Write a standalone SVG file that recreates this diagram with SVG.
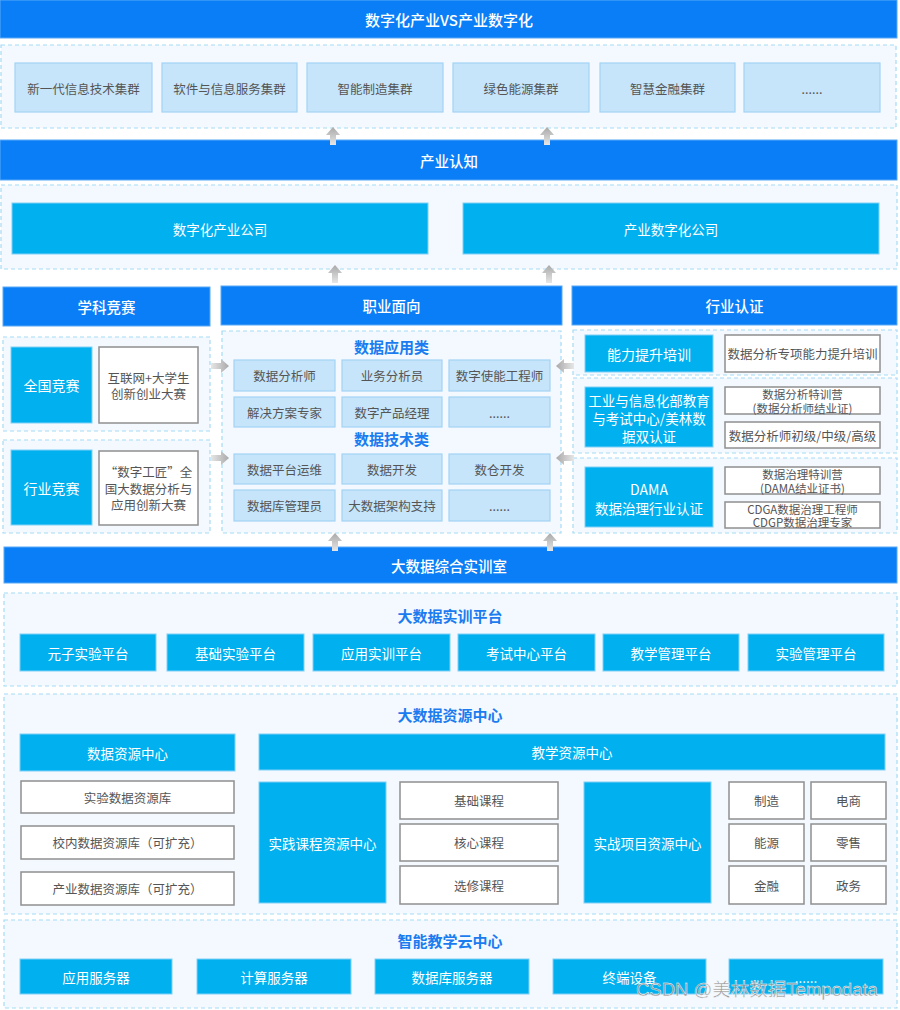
<svg xmlns="http://www.w3.org/2000/svg" width="900" height="1010" viewBox="0 0 900 1010">
<defs>
<style>
text{font-family:"Noto Sans CJK SC","Noto Sans",sans-serif;text-anchor:middle;dominant-baseline:central}
.bar{fill:#0a7ef6;stroke:#5aa9f8;stroke-width:1}
.cont{fill:#f3f9fe;stroke:#a6dbf6;stroke-width:1.2;stroke-dasharray:4 3}
.lb{fill:#c6e5fb;stroke:#a3d3f6;stroke-width:1.2}
.cy{fill:#00b0ef;stroke:#80d0f6;stroke-width:1}
.wb{fill:#ffffff;stroke:#8f8f8f;stroke-width:1.5}
.tb{fill:#ffffff;font-size:14.5px;font-weight:500}
.tw{fill:#ffffff;font-size:13.5px}
.tg{fill:#555555;font-size:12.5px}
.ts{fill:#555555;font-size:11.5px}
.th{fill:#1b7cf0;font-size:15px;font-weight:bold}
.arr{fill:url(#ag)}
.wm{font-family:"Liberation Sans","Noto Sans CJK SC",sans-serif;font-size:18.5px;fill:#8c8c8c;fill-opacity:0.9;stroke:#ffffff;stroke-width:0.4;text-anchor:start;dominant-baseline:auto}
</style>
<linearGradient id="ag" x1="0" y1="0" x2="0" y2="1">
<stop offset="0" stop-color="#a9a9a9"/>
<stop offset="1" stop-color="#e6e6e6"/>
</linearGradient>
<linearGradient id="agh" x1="0" y1="0" x2="1" y2="0">
<stop offset="0" stop-color="#e6e6e6"/>
<stop offset="1" stop-color="#a9a9a9"/>
</linearGradient>
<polygon id="up" points="0,0 7,8 3,8 3,18 -3,18 -3,8 -7,8"/>
<polygon id="right" points="0,0 -8,-7 -8,-3 -18,-3 -18,3 -8,3 -8,7" fill="url(#agh)"/>
</defs>
<rect width="900" height="1010" fill="#ffffff"/>

<g id="top-title">
<rect class="bar" x="0" y="0" width="897" height="38"/>
<text class="tb" x="449" y="19" style="font-size:15px">数字化产业VS产业数字化</text>
</g>
<g id="clusters">
<rect class="cont" x="1" y="45" width="895" height="83"/>
<g id="c1"><rect class="lb" x="15" y="63" width="137" height="49"/><text class="tg" x="83.5" y="88">新一代信息技术集群</text></g>
<g id="c2"><rect class="lb" x="162" y="63" width="135" height="49"/><text class="tg" x="229.5" y="88">软件与信息服务集群</text></g>
<g id="c3"><rect class="lb" x="307" y="63" width="136" height="49"/><text class="tg" x="375" y="88">智能制造集群</text></g>
<g id="c4"><rect class="lb" x="453" y="63" width="136" height="49"/><text class="tg" x="521" y="88">绿色能源集群</text></g>
<g id="c5"><rect class="lb" x="600" y="63" width="135" height="49"/><text class="tg" x="667.5" y="88">智慧金融集群</text></g>
<g id="c6"><rect class="lb" x="744" y="63" width="136" height="49"/><text class="tg" x="812" y="88">......</text></g>
</g>

<g id="industry-cognition">
<rect class="bar" x="0" y="140" width="897" height="40"/>
<text class="tb" x="449" y="160">产业认知</text>
</g>
<g id="companies">
<rect class="cont" x="1" y="185" width="896" height="84"/>
<g id="co1"><rect class="cy" x="12" y="203" width="416" height="51"/><text class="tw" x="220" y="228.5">数字化产业公司</text></g>
<g id="co2"><rect class="cy" x="463" y="203" width="416" height="51"/><text class="tw" x="671" y="228.5">产业数字化公司</text></g>
</g>

<g id="competition">
<rect class="bar" x="3" y="287" width="207" height="39"/>
<text class="tb" x="106.5" y="306.5">学科竞赛</text>
<g id="national">
<rect class="cont" x="3" y="337" width="207" height="94"/>
<rect class="cy" x="11" y="347" width="81" height="76"/>
<text class="tw" x="51.5" y="385" style="font-size:14px">全国竞赛</text>
<rect class="wb" x="99" y="347" width="99" height="76"/>
<text class="tg" x="148.5" y="377">互联网+大学生</text>
<text class="tg" x="148.5" y="393.5">创新创业大赛</text>
</g>
<g id="industry-comp">
<rect class="cont" x="3" y="440" width="207" height="93"/>
<rect class="cy" x="11" y="450" width="81" height="75"/>
<text class="tw" x="51.5" y="488" style="font-size:14px">行业竞赛</text>
<rect class="wb" x="99" y="451" width="99" height="74"/>
<text class="tg" x="148.5" y="471.5">“数字工匠”全</text>
<text class="tg" x="148.5" y="488">国大数据分析与</text>
<text class="tg" x="148.5" y="504.5">应用创新大赛</text>
</g>
</g>

<g id="career">
<rect class="bar" x="221" y="286" width="341" height="39"/>
<text class="tb" x="391.5" y="305.5">职业面向</text>
<rect class="cont" x="222" y="331" width="339" height="202"/>
<text class="th" x="391.5" y="346">数据应用类</text>
<g id="r1a"><rect class="lb" x="234" y="360" width="101" height="31"/><text class="tg" x="284.5" y="375.5">数据分析师</text></g>
<g id="r1b"><rect class="lb" x="342" y="360" width="100" height="31"/><text class="tg" x="392" y="375.5">业务分析员</text></g>
<g id="r1c"><rect class="lb" x="449" y="360" width="101" height="31"/><text class="tg" x="499.5" y="375.5">数字使能工程师</text></g>
<g id="r2a"><rect class="lb" x="234" y="397" width="101" height="30"/><text class="tg" x="284.5" y="412">解决方案专家</text></g>
<g id="r2b"><rect class="lb" x="342" y="397" width="100" height="30"/><text class="tg" x="392" y="412">数字产品经理</text></g>
<g id="r2c"><rect class="lb" x="449" y="397" width="101" height="30"/><text class="tg" x="499.5" y="412">......</text></g>
<text class="th" x="391.5" y="438">数据技术类</text>
<g id="r3a"><rect class="lb" x="234" y="454" width="101" height="30"/><text class="tg" x="284.5" y="469">数据平台运维</text></g>
<g id="r3b"><rect class="lb" x="342" y="454" width="100" height="30"/><text class="tg" x="392" y="469">数据开发</text></g>
<g id="r3c"><rect class="lb" x="449" y="454" width="101" height="30"/><text class="tg" x="499.5" y="469">数仓开发</text></g>
<g id="r4a"><rect class="lb" x="234" y="490" width="101" height="31"/><text class="tg" x="284.5" y="505.5">数据库管理员</text></g>
<g id="r4b"><rect class="lb" x="342" y="490" width="100" height="31"/><text class="tg" x="392" y="505.5">大数据架构支持</text></g>
<g id="r4c"><rect class="lb" x="449" y="490" width="101" height="31"/><text class="tg" x="499.5" y="505.5">......</text></g>
</g>

<g id="certification">
<rect class="bar" x="572" y="286" width="325" height="39"/>
<text class="tb" x="734.5" y="305.5">行业认证</text>
<g id="training">
<rect class="cont" x="573" y="330" width="324" height="45"/>
<rect class="cy" x="585" y="335" width="128" height="37"/>
<text class="tw" x="649" y="353.5" style="font-size:14px">能力提升培训</text>
<rect class="wb" x="725" y="335" width="155" height="37"/>
<text class="tg" x="802.5" y="353.5">数据分析专项能力提升培训</text>
</g>
<g id="miit">
<rect class="cont" x="573" y="378" width="324" height="75"/>
<rect class="cy" x="585" y="387" width="128" height="60"/>
<text class="tw" x="649" y="399.5" style="font-size:13.5px">工业与信息化部教育</text>
<text class="tw" x="649" y="417.5" style="font-size:13.5px">与考试中心/美林数</text>
<text class="tw" x="649" y="435.5" style="font-size:13.5px">据双认证</text>
<rect class="wb" x="725" y="387" width="155" height="27"/>
<text class="ts" x="802.5" y="394">数据分析特训营</text>
<text class="ts" x="802.5" y="407.5">(数据分析师结业证)</text>
<rect class="wb" x="725" y="422" width="155" height="26"/>
<text class="tg" x="802.5" y="435.5">数据分析师初级/中级/高级</text>
</g>
<g id="dama">
<rect class="cont" x="573" y="458" width="324" height="75"/>
<rect class="cy" x="585" y="467" width="128" height="60"/>
<text class="tw" x="649" y="489" style="font-size:14px">DAMA</text>
<text class="tw" x="649" y="508" style="font-size:13.5px">数据治理行业认证</text>
<rect class="wb" x="725" y="467" width="155" height="27"/>
<text class="ts" x="802.5" y="474">数据治理特训营</text>
<text class="ts" x="802.5" y="487.5">(DAMA结业证书)</text>
<rect class="wb" x="725" y="502" width="155" height="26"/>
<text class="ts" x="802.5" y="508.5">CDGA数据治理工程师</text>
<text class="ts" x="802.5" y="522">CDGP数据治理专家</text>
</g>
</g>

<g id="training-room">
<rect class="bar" x="4" y="547" width="893" height="36"/>
<text class="tb" x="449" y="565">大数据综合实训室</text>
</g>
<g id="platform">
<rect class="cont" x="4" y="593" width="893" height="93"/>
<text class="th" x="450" y="615">大数据实训平台</text>
<g id="p1"><rect class="cy" x="20" y="634" width="136" height="37"/><text class="tw" x="88" y="652.5">元子实验平台</text></g>
<g id="p2"><rect class="cy" x="167" y="634" width="137" height="37"/><text class="tw" x="235.5" y="652.5">基础实验平台</text></g>
<g id="p3"><rect class="cy" x="313" y="634" width="137" height="37"/><text class="tw" x="381.5" y="652.5">应用实训平台</text></g>
<g id="p4"><rect class="cy" x="458" y="634" width="137" height="37"/><text class="tw" x="526.5" y="652.5">考试中心平台</text></g>
<g id="p5"><rect class="cy" x="603" y="634" width="136" height="37"/><text class="tw" x="671" y="652.5">教学管理平台</text></g>
<g id="p6"><rect class="cy" x="748" y="634" width="136" height="37"/><text class="tw" x="816" y="652.5">实验管理平台</text></g>
</g>

<g id="resource-center">
<rect class="cont" x="4" y="694" width="893" height="220"/>
<text class="th" x="450" y="714">大数据资源中心</text>
<g id="data-res">
<rect class="cy" x="20" y="734" width="215" height="37"/>
<text class="tw" x="127.5" y="752.5">数据资源中心</text>
<rect class="wb" x="21" y="781" width="213" height="32"/><text class="tg" x="127.5" y="797">实验数据资源库</text>
<rect class="wb" x="21" y="826" width="213" height="33"/><text class="tg" x="127.5" y="842.5">校内数据资源库（可扩充）</text>
<rect class="wb" x="21" y="872" width="213" height="33"/><text class="tg" x="127.5" y="888.5">产业数据资源库（可扩充）</text>
</g>
<g id="teach-res">
<rect class="cy" x="259" y="734" width="626" height="36"/>
<text class="tw" x="572" y="752">教学资源中心</text>
<rect class="cy" x="259" y="782" width="127" height="121"/>
<text class="tw" x="322.5" y="842.5">实践课程资源中心</text>
<rect class="wb" x="400" y="782" width="158" height="37"/><text class="tg" x="479" y="800.5">基础课程</text>
<rect class="wb" x="400" y="824" width="158" height="37"/><text class="tg" x="479" y="842.5">核心课程</text>
<rect class="wb" x="400" y="866" width="158" height="38"/><text class="tg" x="479" y="885">选修课程</text>
<rect class="cy" x="584" y="782" width="127" height="121"/>
<text class="tw" x="647.5" y="842.5">实战项目资源中心</text>
<rect class="wb" x="729" y="782" width="75" height="37"/><text class="tg" x="766.5" y="800.5">制造</text>
<rect class="wb" x="811" y="782" width="75" height="37"/><text class="tg" x="848.5" y="800.5">电商</text>
<rect class="wb" x="729" y="824" width="75" height="37"/><text class="tg" x="766.5" y="842.5">能源</text>
<rect class="wb" x="811" y="824" width="75" height="37"/><text class="tg" x="848.5" y="842.5">零售</text>
<rect class="wb" x="729" y="866" width="75" height="38"/><text class="tg" x="766.5" y="885">金融</text>
<rect class="wb" x="811" y="866" width="75" height="38"/><text class="tg" x="848.5" y="885">政务</text>
</g>
</g>

<g id="cloud">
<rect class="cont" x="4" y="920" width="893" height="88"/>
<text class="th" x="450" y="940">智能教学云中心</text>
<g id="s1"><rect class="cy" x="20" y="959" width="152" height="35"/><text class="tw" x="96" y="976.5">应用服务器</text></g>
<g id="s2"><rect class="cy" x="197" y="959" width="154" height="35"/><text class="tw" x="274" y="976.5">计算服务器</text></g>
<g id="s3"><rect class="cy" x="375" y="959" width="154" height="35"/><text class="tw" x="452" y="976.5">数据库服务器</text></g>
<g id="s4"><rect class="cy" x="553" y="959" width="153" height="35"/><text class="tw" x="629.5" y="976.5">终端设备</text></g>
<g id="s5"><rect class="cy" x="729" y="959" width="154" height="35"/><text class="tw" x="806" y="976.5">......</text></g>
</g>

<g id="connectors">
<use href="#up" class="arr" x="333" y="127"/>
<use href="#up" class="arr" x="547" y="127"/>
<use href="#up" class="arr" x="335" y="265"/>
<use href="#up" class="arr" x="549" y="265"/>
<use href="#up" class="arr" x="335" y="533"/>
<use href="#up" class="arr" x="550" y="533"/>
<use href="#right" x="229" y="366"/>
<use href="#right" x="229" y="458"/>
<use href="#right" transform="translate(556,366) scale(-1,1)"/>
<use href="#right" transform="translate(556,458) scale(-1,1)"/>
</g>

<text class="wm" x="636" y="996">CSDN @美林数据Tempodata</text>
</svg>
